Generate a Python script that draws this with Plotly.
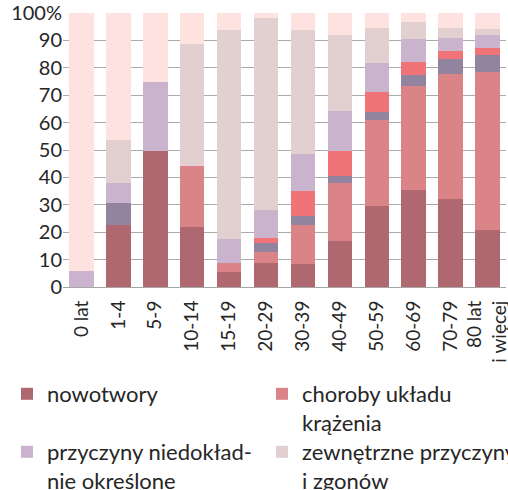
import plotly.graph_objects as go

categories = ["0 lat", "1-4", "5-9", "10-14", "15-19", "20-29", "30-39",
              "40-49", "50-59", "60-69", "70-79", "80 lat<br>i więcej"]

nowotwory = [0, 22.7, 49.7, 22.0, 5.6, 8.9, 8.5, 16.9, 29.6, 35.5, 32.2, 20.9]
krazenia = [0, 0, 0, 22.2, 3.3, 4.0, 14.2, 21.1, 31.4, 37.9, 45.6, 57.6]
oddechowy = [0, 8.0, 0, 0, 0, 3.3, 3.3, 2.6, 2.9, 4.0, 5.5, 6.2]
trawienny = [0, 0, 0, 0, 0, 1.8, 9.1, 9.1, 7.3, 4.7, 2.9, 2.6]
niedokladne = [5.9, 7.3, 25.1, 0, 8.7, 10.2, 13.5, 14.6, 10.5, 8.4, 4.6, 4.7]
zewnetrzne = [0, 15.7, 0, 44.6, 76.2, 70.0, 45.2, 27.7, 12.8, 6.2, 3.7, 2.2]
pozostale = [94.1, 46.3, 25.2, 11.2, 6.2, 1.8, 6.2, 8.0, 5.5, 3.3, 5.5, 5.8]

series = [
    ("nowotwory", nowotwory, "#B06870", "legend"),
    ("choroby układu<br>krążenia", krazenia, "#DB8487", "legend2"),
    ("choroby układu oddechowego", oddechowy, "#92849E", None),
    ("choroby układu trawiennego", trawienny, "#F07378", None),
    ("przyczyny niedokład-<br>nie określone", niedokladne, "#C9B3CD", "legend3"),
    ("zewnętrzne przyczyny zachorowań<br>i zgonów", zewnetrzne, "#E2CFD0", "legend4"),
    ("pozostałe", pozostale, "#FDE2DF", None),
]

W, H = 508, 490
L, R, T, B = 63, 2, 13, 203
pw, ph = W - L - R, H - T - B


def px_x(p):
    return (p - L) / pw


def px_y(p):
    return (H - B - p) / ph


fig = go.Figure()
for name, vals, color, leg in series:
    kw = dict(showlegend=leg is not None)
    if leg:
        kw["legend"] = leg
    fig.add_trace(go.Bar(x=categories, y=vals, name=name,
                         marker=dict(color=color, line=dict(width=0)), **kw))

FONT = "Lato"
legfont = dict(family=FONT, size=22, color="#262626")
common = dict(font=legfont, bgcolor="rgba(0,0,0,0)", borderwidth=0,
              xanchor="left", yanchor="top", valign="top", itemclick=False)

fig.update_layout(
    width=W, height=H,
    margin=dict(l=L, r=R, t=T, b=B, pad=0, autoexpand=False),
    barmode="stack", bargap=0.336,
    plot_bgcolor="white", paper_bgcolor="white",
    font=dict(family=FONT, size=19, color="#262626"),
    xaxis=dict(tickangle=-90, showline=True, linecolor="#A6A6A6", linewidth=1,
               showgrid=False, ticks="outside", ticklen=5,
               tickcolor="rgba(0,0,0,0)", tickfont=dict(size=19),
               tickmode="array", tickvals=categories, ticktext=categories,
               automargin=False),
    yaxis=dict(range=[0, 100], tickvals=list(range(0, 101, 10)),
               ticktext=[str(v) for v in range(0, 100, 10)] + ["100%"],
               showgrid=True, gridcolor="#ABABAB", gridwidth=1,
               zeroline=False, showline=False, ticks="",
               tickfont=dict(size=20), automargin=False),
    legend=dict(x=px_x(7), y=px_y(373), **common),
    legend2=dict(x=px_x(262), y=px_y(373), **common),
    legend3=dict(x=px_x(7), y=px_y(431), **common),
    legend4=dict(x=px_x(262), y=px_y(431), **common),
)

fig.write_html("out.html",
               config={"displayModeBar": False},
               post_script="document.body.style.margin='0';document.body.style.overflow='hidden';")
